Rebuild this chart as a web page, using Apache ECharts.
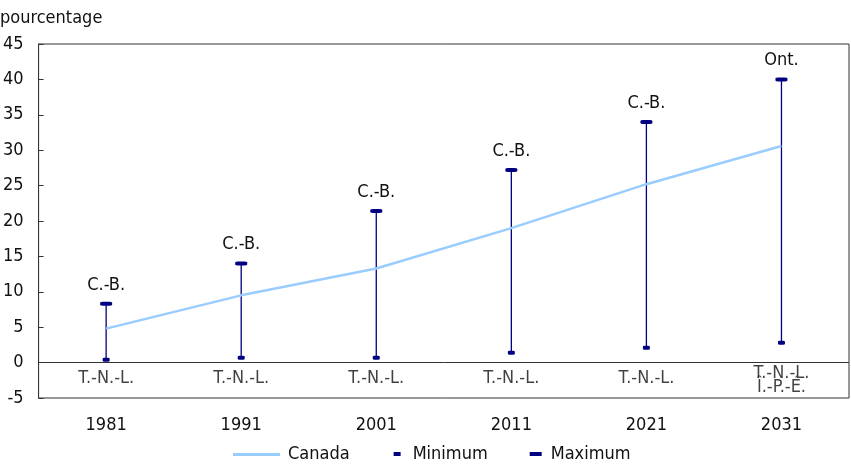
<!DOCTYPE html>
<html>
<head>
<meta charset="utf-8">
<script src="https://cdn.jsdelivr.net/npm/echarts@6/dist/echarts.min.js"></script>
<style>
html, body { margin: 0; padding: 0; background: #fff; }
#chart { width: 851px; height: 466px; }
</style>
</head>
<body>
<div id="chart"></div>
<script>
// données
var years = ['1981', '1991', '2001', '2011', '2021', '2031'];
var canada = [4.8, 9.5, 13.3, 19.0, 25.2, 30.6];
var minimum = [0.4, 0.7, 0.7, 1.4, 2.1, 2.8];
var maximum = [8.3, 14.0, 21.4, 27.2, 34.0, 40.0];
var maxLabels = ['C.-B.', 'C.-B.', 'C.-B.', 'C.-B.', 'C.-B.', 'Ont.'];
var minLabels = ['T.-N.-L.', 'T.-N.-L.', 'T.-N.-L.', 'T.-N.-L.', 'T.-N.-L.', 'T.-N.-L.\nÎ.-P.-É.'];

var FONT = '"DejaVu Sans Condensed", "Liberation Sans Narrow", "Liberation Sans", sans-serif';
var NAVY = '#000080';
var FS = 18;

var chart = echarts.init(document.getElementById('chart'));

var rangeData = years.map(function (y, i) { return [i, minimum[i], maximum[i]]; });
var zeroData = years.map(function (y, i) {
    // les étiquettes sur deux lignes descendent un peu
    var twoLines = minLabels[i].indexOf('\n') >= 0;
    return { value: [i, 0], label: { formatter: minLabels[i], offset: [0, twoLines ? 18 : 16] } };
});
var maxData = years.map(function (y, i) { return { value: [i, maximum[i]], label: { formatter: maxLabels[i] } }; });

var option = {
    animation: false,
    textStyle: { fontFamily: FONT },
    grid: { left: 38, right: 2, top: 44, bottom: 68, show: true, borderColor: '#333', borderWidth: 1 },
    title: {
        text: 'pourcentage',
        left: 0, top: 9,
        padding: 0,
        textStyle: { fontFamily: FONT, fontSize: FS, fontWeight: 'normal', color: '#111' }
    },
    legend: {
        top: 445,
        left: 233,
        padding: 0,
        itemWidth: 47,
        itemHeight: 14,
        itemGap: 8,
        textStyle: { fontFamily: FONT, fontSize: FS, color: '#111', padding: [0, 0, 0, 3] },
        data: [
            { name: 'Canada', icon: 'path://M0,0 M47,14 M0,6 L47,6 L47,9 L0,9 Z' },
            { name: 'Minimum', icon: 'path://M0,0 M47,14 M36,5 L43,5 L43,9 L36,9 Z' },
            { name: 'Maximum', icon: 'path://M0,0 M47,14 M34,5 L46,5 L46,9 L34,9 Z' }
        ]
    },
    xAxis: {
        type: 'category',
        data: years,
        boundaryGap: true,
        axisLine: { show: false },
        axisTick: { show: false },
        axisLabel: { color: '#111', fontSize: FS, margin: 18, fontFamily: FONT }
    },
    yAxis: {
        type: 'value',
        min: -5, max: 45, interval: 5,
        axisLine: { show: true, lineStyle: { color: '#333' } },
        axisTick: { show: true, inside: true, length: 5, lineStyle: { color: '#333' } },
        splitLine: { show: false },
        axisLabel: { color: '#111', fontSize: FS, margin: 15, fontFamily: FONT }
    },
    series: [
        {
            name: 'Canada',
            type: 'line',
            data: canada,
            symbol: 'none',
            z: 3,
            lineStyle: { color: '#99ccff', width: 2.5 },
            itemStyle: { color: '#99ccff' },
            markLine: {
                silent: true,
                symbol: 'none',
                label: { show: false },
                lineStyle: { color: '#333', width: 1, type: 'solid' },
                data: [{ yAxis: 0 }]
            }
        },
        {
            name: 'range',
            type: 'custom',
            z: 2,
            data: rangeData,
            renderItem: function (params, api) {
                var lo = api.coord([api.value(0), api.value(1)]);
                var hi = api.coord([api.value(0), api.value(2)]);
                return {
                    type: 'line',
                    shape: { x1: lo[0], y1: lo[1], x2: hi[0], y2: hi[1] },
                    style: { stroke: NAVY, lineWidth: 1.3 }
                };
            }
        },
        {
            name: 'Minimum',
            type: 'scatter',
            z: 4,
            data: minimum.map(function (v, i) { return [i, v]; }),
            symbol: 'roundRect',
            symbolSize: [7, 4],
            itemStyle: { color: NAVY, opacity: 1 }
        },
        {
            name: 'Maximum',
            type: 'scatter',
            z: 4,
            data: maxData,
            symbol: 'roundRect',
            symbolSize: [12, 4],
            itemStyle: { color: NAVY, opacity: 1 },
            label: {
                show: true,
                position: 'top',
                distance: 8,
                color: '#111',
                fontSize: FS,
                fontFamily: FONT
            }
        },
        {
            name: 'zeroLabels',
            type: 'scatter',
            z: 4,
            silent: true,
            data: zeroData,
            symbolSize: 0,
            label: {
                show: true,
                position: 'inside',
                align: 'center',
                verticalAlign: 'middle',
                color: '#111',
                fontSize: FS,
                lineHeight: 14,
                fontFamily: FONT
            }
        }
    ]
};

chart.setOption(option);
</script>
</body>
</html>
